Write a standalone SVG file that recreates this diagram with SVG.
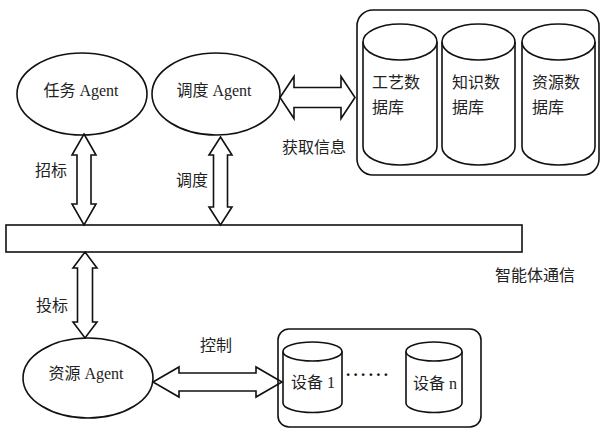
<svg xmlns="http://www.w3.org/2000/svg" width="601" height="430" viewBox="0 0 601 430">
<style>
.s{fill:none;stroke:#111;stroke-width:1.6}
.w{fill:#fff;stroke:#111;stroke-width:1.6;stroke-linejoin:miter}
.t{font-family:"Liberation Serif","Noto Sans CJK SC",serif;font-size:16px;fill:#222}
.m{text-anchor:middle;dominant-baseline:central}
.l{dominant-baseline:central}
</style>
<rect width="601" height="430" fill="#fff"/>
<g id="connectors">
<polygon class="w" points="84,134 96,155 91,155 91,204 96,204 84,225 72,204 77,204 77,155 72,155"/>
<polygon class="w" points="220.5,137 232,155 227.5,155 227.5,207 232,207 220.5,225 209,207 213.5,207 213.5,155 209,155"/>
<polygon class="w" points="85,252 97,268 92.5,268 92.5,322 97,322 85,338 73,322 77.5,322 77.5,268 73,268"/>
<polygon class="w" points="280,97.5 294,76.5 294,87.5 341,87.5 341,76.5 355,97.5 341,118.5 341,107.5 294,107.5 294,118.5"/>
<polygon class="w" points="153,382 179,367 179,373 256,373 256,367 282,382 256,397 256,391 179,391 179,397"/>
</g>
<g id="bus">
<rect class="s" x="6" y="225" width="516" height="27"/>
<text class="t m" x="535" y="275">智能体通信</text>
</g>
<g id="task-agent">
<ellipse class="s" cx="82" cy="94" rx="65" ry="41"/>
<text class="t m" x="81" y="90">任务 Agent</text>
</g>
<g id="dispatch-agent">
<ellipse class="s" cx="216" cy="94" rx="64" ry="41"/>
<text class="t m" x="214" y="90">调度 Agent</text>
</g>
<g id="resource-agent">
<ellipse class="s" cx="88" cy="378" rx="65" ry="40"/>
<text class="t m" x="86" y="373">资源 Agent</text>
</g>
<g id="labels">
<text class="t m" x="51" y="170">招标</text>
<text class="t m" x="192" y="180">调度</text>
<text class="t m" x="52" y="305">投标</text>
<text class="t m" x="216" y="345">控制</text>
<text class="t m" x="314" y="147">获取信息</text>
</g>
<g id="databases">
<rect class="s" x="357" y="10" width="242" height="165" rx="16"/>
<g id="db-process">
<path class="s" d="M363,42 V147 A37,18 0 0 0 437,147 V42"/>
<ellipse class="s" cx="400" cy="42" rx="37" ry="18"/>
<text class="t l" x="372" y="82">工艺数</text>
<text class="t l" x="372" y="107">据库</text>
</g>
<g id="db-knowledge">
<path class="s" d="M442,42 V147 A36.5,18 0 0 0 515,147 V42"/>
<ellipse class="s" cx="478.5" cy="42" rx="36.5" ry="18"/>
<text class="t l" x="452" y="82">知识数</text>
<text class="t l" x="452" y="107">据库</text>
</g>
<g id="db-resource">
<path class="s" d="M522,42 V147 A36.5,18 0 0 0 595,147 V42"/>
<ellipse class="s" cx="558.5" cy="42" rx="36.5" ry="18"/>
<text class="t l" x="532" y="82">资源数</text>
<text class="t l" x="532" y="107">据库</text>
</g>
</g>
<g id="devices">
<rect class="s" x="278" y="329" width="203" height="98" rx="11"/>
<g id="device-1">
<path class="s" d="M283,351.5 V403 A29.5,9.5 0 0 0 342,403 V351.5"/>
<ellipse class="s" cx="312.5" cy="351.5" rx="29.5" ry="9.5"/>
<text class="t m" x="313" y="382">设备 1</text>
</g>
<text class="t" x="346" y="375.5" style="font-size:17px;letter-spacing:3.3px;font-weight:bold;fill:#111">......</text>
<g id="device-n">
<path class="s" d="M406,351.5 V403 A28,9.5 0 0 0 462,403 V351.5"/>
<ellipse class="s" cx="434" cy="351.5" rx="28" ry="9.5"/>
<text class="t m" x="435" y="383">设备 n</text>
</g>
</g>
</svg>
